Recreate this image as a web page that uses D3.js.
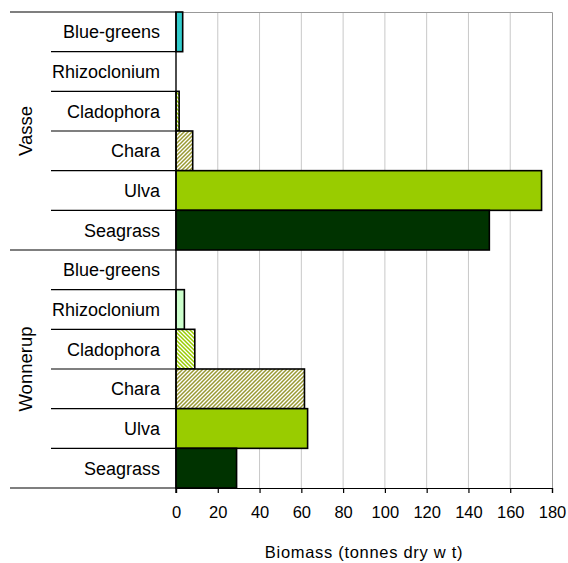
<!DOCTYPE html>
<html>
<head>
<meta charset="utf-8">
<script src="https://cdn.jsdelivr.net/npm/d3@7/dist/d3.min.js"></script>
<style>
  html, body { margin: 0; padding: 0; background: #fff; }
  svg { display: block; font-family: "Liberation Sans", Arial, sans-serif; }
</style>
</head>
<body>
<svg id="chart" width="568" height="563"></svg>
<script>
// Macrophyte biomass by estuary (tonnes dry weight)
const sites = ["Vasse", "Wonnerup"];
const species = ["Blue-greens", "Rhizoclonium", "Cladophora", "Chara", "Ulva", "Seagrass"];
const vasseBiomass = [3.2, 0, 1.5, 8, 175, 150];
const wonnerupBiomass = [0, 4, 9, 61.5, 63, 29];
const xTicks = [0, 20, 40, 60, 80, 100, 120, 140, 160, 180];
const xTitle = "Biomass (tonnes dry w t)";

const seriesBySite = { "Vasse": vasseBiomass, "Wonnerup": wonnerupBiomass };

const rows = [];
sites.forEach(site => {
  species.forEach((sp, i) => {
    rows.push({ site, species: sp, key: site + "|" + sp, value: seriesBySite[site][i] });
  });
});

const svg = d3.select("#chart");
const plot = { left: 176, right: 552, top: 12, bottom: 488 };

const x = d3.scaleLinear().domain([0, 180]).range([plot.left, plot.right]);
const y = d3.scaleBand().domain(rows.map(d => d.key)).range([plot.top, plot.bottom]).padding(0);
const siteScale = d3.scaleBand().domain(sites).range([plot.top, plot.bottom]).padding(0);

// hatch fills
const defs = svg.append("defs");
function hatch(id, color, up) {
  const p = defs.append("pattern")
    .attr("id", id).attr("patternUnits", "userSpaceOnUse")
    .attr("width", 4).attr("height", 4);
  p.append("rect").attr("width", 4).attr("height", 4).attr("fill", "#fff");
  p.append("path")
    .attr("d", up ? "M-1,1 L1,-1 M0,4 L4,0 M3,5 L5,3" : "M-1,3 L1,5 M0,0 L4,4 M3,-1 L5,1")
    .attr("stroke", color).attr("stroke-width", 1.5);
}
hatch("hatchChara", "#999933", true);
hatch("hatchClad", "#99CC00", false);

const fills = {
  "Blue-greens": "#33CCCC",
  "Rhizoclonium": "#CCFFCC",
  "Cladophora": "url(#hatchClad)",
  "Chara": "url(#hatchChara)",
  "Ulva": "#99CC00",
  "Seagrass": "#003300"
};

// gridlines
svg.append("g").selectAll("line")
  .data(xTicks.filter(t => t > 0 && t < 180))
  .join("line")
  .attr("x1", d => x(d)).attr("x2", d => x(d))
  .attr("y1", plot.top).attr("y2", plot.bottom)
  .attr("stroke", "#c8c8c8").attr("stroke-width", 1);

// plot border (top and right)
svg.append("path")
  .attr("d", `M${plot.left},${plot.top + 0.5}H${plot.right + 0.5}V${plot.bottom}`)
  .attr("fill", "none").attr("stroke", "#999").attr("stroke-width", 1);

// bars
svg.append("g").selectAll("rect")
  .data(rows.filter(d => d.value > 0))
  .join("rect")
  .attr("x", x(0))
  .attr("y", d => y(d.key))
  .attr("width", d => x(d.value) - x(0))
  .attr("height", y.bandwidth())
  .attr("fill", d => fills[d.species])
  .attr("stroke", "#000").attr("stroke-width", 1.6);

// x axis
const xAxis = d3.axisBottom(x).tickValues(xTicks).tickSize(5).tickPadding(13);
const gx = svg.append("g").attr("transform", `translate(0,${plot.bottom})`).call(xAxis);
gx.select(".domain").attr("stroke", "#000").attr("stroke-width", 1.2);
gx.selectAll(".tick line").attr("stroke", "#000").attr("stroke-width", 1.2);
gx.selectAll(".tick text").attr("font-size", 16.5).attr("fill", "#000")
  .attr("font-family", "Liberation Sans, Arial, sans-serif");

// category axis: vertical line and row separators
svg.append("line")
  .attr("x1", plot.left).attr("x2", plot.left)
  .attr("y1", plot.top).attr("y2", plot.bottom + 5)
  .attr("stroke", "#000").attr("stroke-width", 1.4);

const boundaries = d3.range(rows.length + 1);
svg.append("g").selectAll("line")
  .data(boundaries)
  .join("line")
  .attr("x1", i => (i % species.length === 0) ? 10 : 51)
  .attr("x2", plot.left)
  .attr("y1", i => i < rows.length ? y(rows[i].key) : plot.bottom)
  .attr("y2", i => i < rows.length ? y(rows[i].key) : plot.bottom)
  .attr("stroke", "#000").attr("stroke-width", 1.2);

// species labels
svg.append("g").selectAll("text")
  .data(rows)
  .join("text")
  .attr("x", 160)
  .attr("y", d => y(d.key) + y.bandwidth() / 2 + 6.5)
  .attr("text-anchor", "end")
  .attr("font-size", 18)
  .attr("fill", "#000")
  .text(d => d.species);

// site labels
svg.append("g").selectAll("text")
  .data(sites)
  .join("text")
  .attr("transform", d => `translate(32,${siteScale(d) + siteScale.bandwidth() / 2}) rotate(-90)`)
  .attr("text-anchor", "middle")
  .attr("font-size", 18.5)
  .attr("fill", "#000")
  .text(d => d);

// axis title
svg.append("text")
  .attr("x", 364)
  .attr("y", 558)
  .attr("text-anchor", "middle")
  .attr("font-size", 16.5)
  .attr("letter-spacing", 0.7)
  .attr("fill", "#000")
  .text(xTitle);
</script>
</body>
</html>
